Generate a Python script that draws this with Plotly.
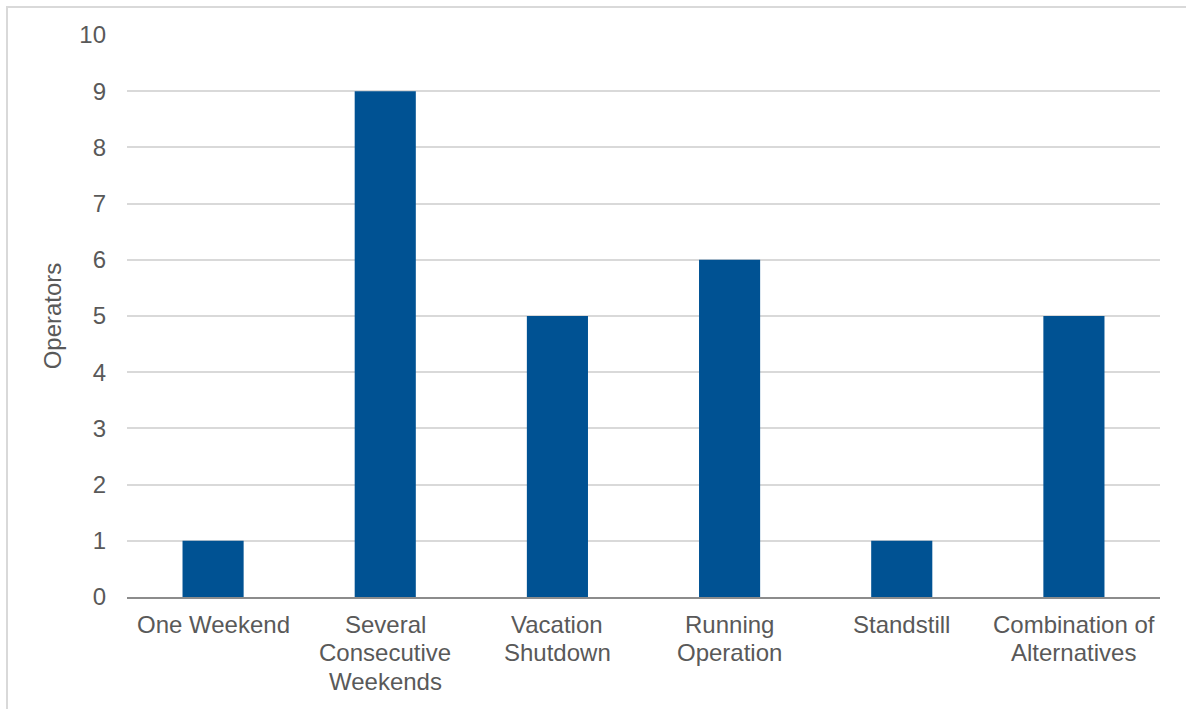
import plotly.graph_objects as go

categories = ["One Weekend", "Several Consecutive Weekends", "Vacation Shutdown",
              "Running Operation", "Standstill", "Combination of Alternatives"]
label_lines = [["One Weekend"], ["Several", "Consecutive", "Weekends"], ["Vacation", "Shutdown"],
               ["Running", "Operation"], ["Standstill"], ["Combination of", "Alternatives"]]
operators = [1, 9, 5, 6, 1, 5]
y_ticks = list(range(0, 11))

W, H = 1186, 709
ml, mr, mt, mb = 127, 26, 35, 112
pw, ph = W - ml - mr, H - mt - mb
FONT = "Liberation Sans, Arial, sans-serif"
TXT = "#595959"

fig = go.Figure(go.Bar(x=categories, y=operators, marker=dict(color="#005293", line=dict(width=0)),
                       width=0.355))

annotations = []
for cat, lines in zip(categories, label_lines):
    for i, ln in enumerate(lines):
        annotations.append(dict(x=cat, xref="x", y=0, yref="paper", text=ln, showarrow=False,
                                xanchor="center", yanchor="middle", yshift=-(27 + i * 28.5),
                                font=dict(family=FONT, size=24, color=TXT)))

fig.update_layout(
    width=W, height=H, margin=dict(l=ml, r=mr, t=mt, b=mb),
    paper_bgcolor="white", plot_bgcolor="white",
    font=dict(family=FONT, size=24, color=TXT),
    showlegend=False,
    xaxis=dict(showline=True, linecolor="#8c8c8c", linewidth=2, ticks="", showgrid=False,
               showticklabels=False),
    yaxis=dict(range=[0, 10], tickvals=y_ticks, showgrid=True, gridcolor="#d9d9d9", gridwidth=1.5,
               zeroline=False, showline=False, ticks="", ticklabelstandoff=20,
               title=dict(text="Operators", font=dict(size=24, color=TXT), standoff=10),
               tickfont=dict(size=24, color=TXT)),
    annotations=annotations,
    shapes=[dict(type="rect", xref="paper", yref="paper",
                 x0=(7 - ml) / pw, x1=(W + 5 - ml) / pw,
                 y0=-(H + 5 - mt - ph) / ph, y1=1 + (mt - 7) / ph,
                 line=dict(color="#d9d9d9", width=2), layer="below")],
)

fig.write_html("out.html")
